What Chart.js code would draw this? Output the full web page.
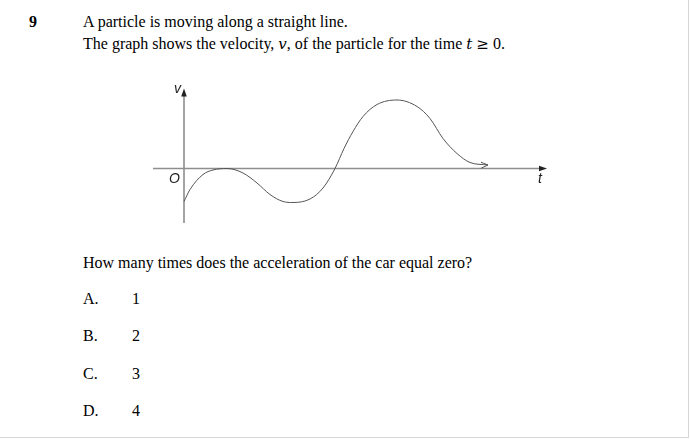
<!DOCTYPE html>
<html>
<head>
<meta charset="utf-8">
<script src="https://cdn.jsdelivr.net/npm/chart.js@4"></script>
<style>
  html, body { margin: 0; padding: 0; background: #fff; }
  #page {
    position: relative; width: 688px; height: 437px;
    border-right: 1px solid #d6d6d6; border-bottom: 1px solid #d6d6d6;
    font-family: "Liberation Serif", "Times New Roman", serif; color: #000;
    overflow: hidden;
  }
  .txt { position: absolute; white-space: nowrap; line-height: 16px; font-size: 16px; }
  .m { font-family: "DejaVu Serif", serif; font-style: italic; font-size: 15px; }
  .mo { font-family: "DejaVu Serif", serif; font-size: 15px; }
  .lbl { position: absolute; font-family: "Liberation Sans", Arial, sans-serif; font-style: italic;
         font-size: 14px; line-height: 14px; color: #222; }
  #graph { position: absolute; left: 140px; top: 75px; }
</style>
</head>
<body>
<div id="page">
  <div class="txt" style="left:29px; top:14px; font-weight:bold;">9</div>
  <div class="txt" style="left:83px; top:14px;">A particle is moving along a straight line.</div>
  <div class="txt" style="left:83px; top:36px;">The graph shows the velocity, <span class="m">v</span>, of the particle for the time <span class="m">t</span> <span class="mo">≥</span> 0.</div>

  <canvas id="graph" width="420" height="160"></canvas>
  <span class="lbl" style="left:174px; top:81px;">v</span>
  <span class="lbl" style="left:169px; top:171px;">O</span>
  <span class="lbl" style="left:538px; top:171px;">t</span>

  <div class="txt" style="left:83px; top:255px;">How many times does the acceleration of the car equal zero?</div>
  <div class="txt" style="left:83px; top:291px;">A.</div><div class="txt" style="left:132px; top:291px;">1</div>
  <div class="txt" style="left:83px; top:328px;">B.</div><div class="txt" style="left:132px; top:328px;">2</div>
  <div class="txt" style="left:83px; top:366px;">C.</div><div class="txt" style="left:132px; top:366px;">3</div>
  <div class="txt" style="left:83px; top:403px;">D.</div><div class="txt" style="left:132px; top:403px;">4</div>
</div>
<script>
// velocity curve (time t, velocity v)
const tValues = [0, 0.6, 1.9, 2.9, 4.3, 5.9, 7.3, 8.6, 9.9, 10.9, 12.6, 13.9, 15.1, 16.0, 16.9, 17.9, 19.3, 21.3, 23.3, 24.6, 25.9, 27.3, 28.6, 30.4];
const vValues = [-3.3, -2.1, -0.6, -0.15, 0, -0.45, -1.45, -2.6, -3.3, -3.4, -3.05, -1.95, 0, 2.0, 3.7, 5.2, 6.4, 6.85, 6.2, 5.0, 3.0, 1.5, 0.6, 0.35];

// extent of the drawn axes
const tAxis = [-3.1, 36.3];
const vAxis = [-5.45, 8.0];

function arrowHead(ctx, x, y, ang, len, half, filled) {
    ctx.beginPath();
    ctx.moveTo(x - len * Math.cos(ang) + half * Math.sin(ang), y - len * Math.sin(ang) - half * Math.cos(ang));
    ctx.lineTo(x, y);
    ctx.lineTo(x - len * Math.cos(ang) - half * Math.sin(ang), y - len * Math.sin(ang) + half * Math.cos(ang));
    if (filled) { ctx.closePath(); ctx.fill(); } else { ctx.stroke(); }
}

const axesPlugin = {
    id: "axes",
    beforeDatasetsDraw(chart) {
        const { ctx, scales: { x, y } } = chart;
        const x0 = x.getPixelForValue(0), y0 = y.getPixelForValue(0);
        const xEnd = x.getPixelForValue(tAxis[1]), yTop = y.getPixelForValue(vAxis[1]);
        ctx.save();
        ctx.strokeStyle = "#8e8e8e";
        ctx.lineWidth = 1.6;
        ctx.beginPath();
        ctx.moveTo(x.getPixelForValue(tAxis[0]), y0);
        ctx.lineTo(xEnd - 5, y0);
        ctx.moveTo(x0, y.getPixelForValue(vAxis[0]));
        ctx.lineTo(x0, yTop + 5);
        ctx.stroke();
        ctx.fillStyle = "#222";
        arrowHead(ctx, xEnd, y0, 0, 8, 2.8, true);
        arrowHead(ctx, x0, yTop, -Math.PI / 2, 8, 2.8, true);
        ctx.restore();
    },
    afterDatasetsDraw(chart) {
        const { ctx, scales: { x, y } } = chart;
        const n = tValues.length;
        const px = x.getPixelForValue(tValues[n - 1]), py = y.getPixelForValue(vValues[n - 1]);
        ctx.save();
        ctx.strokeStyle = "#555";
        ctx.lineWidth = 1;
        arrowHead(ctx, px, py, -0.03, 7, 3, false);
        ctx.restore();
    }
};

new Chart(document.getElementById("graph").getContext("2d"), {
    type: "scatter",
    data: {
        datasets: [{
            data: tValues.map((t, i) => ({ x: t, y: vValues[i] })),
            showLine: true,
            borderColor: "#555",
            borderWidth: 1,
            pointRadius: 0,
            cubicInterpolationMode: "monotone"
        }]
    },
    options: {
        responsive: false,
        animation: false,
        events: [],
        layout: { padding: 0 },
        plugins: { legend: { display: false }, tooltip: { enabled: false } },
        scales: {
            x: { type: "linear", min: -4.4, max: 37.6, display: false },
            y: { type: "linear", min: -6.65, max: 9.35, display: false }
        }
    },
    plugins: [axesPlugin]
});
</script>
</body>
</html>
